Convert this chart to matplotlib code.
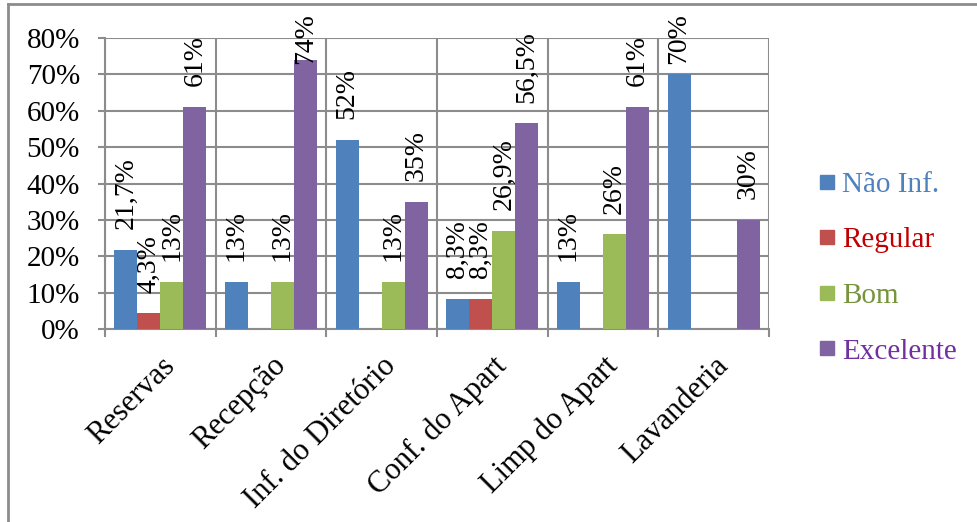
import matplotlib
matplotlib.use("Agg")
import matplotlib.pyplot as plt
import numpy as np
from matplotlib.lines import Line2D

categories = ["Reservas", "Recepção", "Inf. do Diretório", "Conf. do Apart",
              "Limp do Apart", "Lavanderia"]
series_names = ["Não Inf.", "Regular", "Bom", "Excelente"]
nao_inf = [21.7, 13, 52, 8.3, 13, 70]
regular = [4.3, 0, 0, 8.3, 0, 0]
bom = [13, 13, 13, 26.9, 26, 0]
excelente = [61, 74, 35, 56.5, 61, 30]
y_ticks = [0, 10, 20, 30, 40, 50, 60, 70, 80]

bar_colors = ["#4F81BD", "#C0504D", "#9BBB59", "#8064A2"]
text_colors = ["#4F81BD", "#C00000", "#77933C", "#7030A0"]
grid_color = "#8C8C8C"

plt.rcParams["font.family"] = ["Liberation Serif", "DejaVu Serif"]

W, H = 977, 522
fig = plt.figure(figsize=(W / 100, H / 100), dpi=100)
ax = fig.add_axes([105 / W, 1 - 329 / H, (769 - 105) / W, (329 - 38) / H])

values = [nao_inf, regular, bom, excelente]
n_series = len(values)
gap = 0.8
bar_w = 1.0 / (n_series + gap)
x = np.arange(len(categories))


def fmt(v):
    s = f"{v:.1f}".rstrip("0").rstrip(".")
    return s.replace(".", ",") + "%"


label_offset = 15  # points above the bar top
labels = []
for i, vals in enumerate(values):
    pos = x + (gap / 2 + i + 0.5) * bar_w
    ax.bar(pos, vals, width=bar_w, color=bar_colors[i], zorder=3,
           edgecolor="none")
    for p, v in zip(pos, vals):
        if v > 0:
            a = ax.annotate(fmt(v), (p, v), xytext=(0, label_offset),
                            textcoords="offset points", rotation=90,
                            ha="center", va="bottom", fontsize=20,
                            zorder=4, annotation_clip=False)
            labels.append(a)

ax.set_xlim(0, len(categories))
ax.set_ylim(0, 80)
ax.set_yticks(y_ticks)
ax.set_yticklabels([f"{t}%" for t in y_ticks], fontsize=21)
ax.set_xticks(np.arange(len(categories) + 1))
ax.set_xticklabels([])
ax.set_xticks(x + 0.5, minor=True)
ax.set_xticklabels(categories, minor=True, rotation=45, ha="right",
                   va="top", rotation_mode="anchor", fontsize=22)
ax.tick_params(axis="x", which="minor", length=0, pad=16)
ax.tick_params(axis="x", which="major", length=6, width=1.5, color=grid_color,
               direction="out")
ax.tick_params(axis="y", length=5, width=1.5, color=grid_color, direction="out",
               pad=13)

ax.grid(True, axis="both", which="major", color=grid_color, linewidth=1.5, zorder=0)
ax.set_axisbelow(True)
for side, sp in ax.spines.items():
    if side in ("left", "bottom"):
        sp.set_color(grid_color)
        sp.set_linewidth(1.5)
    else:
        sp.set_visible(False)

# legend
handles = [Line2D([0], [0], marker="s", linestyle="none", markersize=10.5,
                  markerfacecolor=c, markeredgecolor=c) for c in bar_colors]
leg = fig.legend(handles, series_names, loc="center left",
                 bbox_to_anchor=(788 / W, 1 - 268 / H), frameon=False,
                 fontsize=21, handletextpad=0.05, labelspacing=1.0,
                 handlelength=0.9)
for t, c in zip(leg.get_texts(), text_colors):
    t.set_color(c)

# chart border
fig.add_artist(Line2D([8 / W, 1.0], [1 - 4 / H, 1 - 4 / H],
                      color=grid_color, linewidth=2, transform=fig.transFigure))
fig.add_artist(Line2D([8 / W, 8 / W], [0, 1 - 4 / H],
                      color=grid_color, linewidth=2, transform=fig.transFigure))

# keep tall value labels inside the chart area
fig.canvas.draw()
renderer = fig.canvas.get_renderer()
top_limit = H - 13
for a in labels:
    bb = a.get_window_extent(renderer)
    if bb.y1 > top_limit:
        shift_pt = (bb.y1 - top_limit) * 72 / 100
        a.xyann = (0, label_offset - shift_pt)

fig.savefig("out.png", dpi=100)
